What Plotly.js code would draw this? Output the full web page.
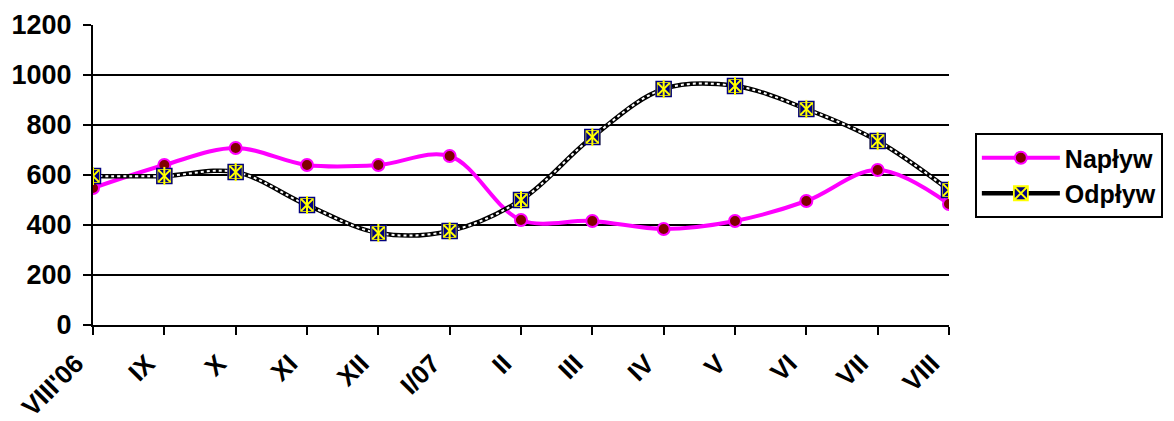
<!DOCTYPE html>
<html>
<head>
<meta charset="utf-8">
<script src="https://cdn.plot.ly/plotly-3.0.1.min.js"></script>
<style>html,body{margin:0;padding:0;background:#fff;}#chart{width:1174px;height:421px;}</style>
</head>
<body>
<div id="chart"></div>
<script>
const categories = ["VIII'06", "IX", "X", "XI", "XII", "I/07", "II", "III", "IV", "V", "VI", "VII", "VIII"];
const naplyw = [548, 640, 708, 640, 640, 676, 420, 416, 384, 416, 496, 620, 484];
const odplyw = [596, 596, 612, 480, 368, 376, 500, 752, 944, 956, 864, 736, 540];
const yTicks = [0, 200, 400, 600, 800, 1000, 1200];

const idx = categories.map((c, i) => i);
const fontFam = "Arial, 'Liberation Sans', sans-serif";

const traces = [
  {
    x: idx, y: naplyw, name: "Napływ", type: "scatter", mode: "lines+markers",
    line: {color: "#FF00FF", width: 4, shape: "spline", smoothing: 1},
    marker: {symbol: "circle", size: 12, color: "#800000", line: {color: "#FF00FF", width: 2}}
  },
  {
    x: idx, y: odplyw, name: "Odpływ", type: "scatter", mode: "lines+markers",
    line: {color: "#000000", width: 4.5, shape: "spline", smoothing: 1},
    marker: {symbol: "square-x", size: 14, color: "#000080", line: {color: "#FFFF00", width: 1.8}}
  },
  {
    x: idx, y: odplyw, name: "Odpływ_dots", type: "scatter", mode: "lines",
    showlegend: false, hoverinfo: "skip",
    line: {color: "#FFFFFF", width: 2, shape: "spline", smoothing: 1, dash: "3px,3px"}
  },
  {
    x: idx, y: odplyw, name: "Odpływ_marks", type: "scatter", mode: "markers",
    showlegend: false, hoverinfo: "skip",
    marker: {symbol: "square-x", size: 14, color: "#000080", line: {color: "#FFFF00", width: 1.8}}
  },
  {
    x: idx, y: odplyw, name: "Odpływ_border", type: "scatter", mode: "markers",
    showlegend: false, hoverinfo: "skip",
    marker: {symbol: "square-open", size: 15, color: "#000080", line: {color: "#000080", width: 1.5}}
  },
  {
    x: idx, y: odplyw, name: "Odpływ_marks2", type: "scatter", mode: "markers",
    showlegend: false, hoverinfo: "skip",
    marker: {symbol: "line-ns-open", size: 13, color: "#FFFF00", line: {color: "#FFFF00", width: 2}}
  }
];

const layout = {
  width: 1174, height: 421,
  margin: {l: 93, r: 224, t: 25, b: 96},
  paper_bgcolor: "#fff", plot_bgcolor: "#fff",
  showlegend: true,
  legend: {
    x: 1.029, y: 0.64, xanchor: "left", yanchor: "top",
    bordercolor: "#000", borderwidth: 2, bgcolor: "#fff",
    font: {family: fontFam, size: 25, color: "#000", weight: "bold"},
    itemwidth: 78, tracegroupgap: 0
  },
  xaxis: {
    range: [0, 12], tickmode: "array", tickvals: idx, ticktext: categories,
    tickangle: -45, ticks: "outside", ticklen: 8, tickwidth: 2, tickcolor: "#000",
    ticklabelstandoff: 3, ticklabelshift: -17,
    showline: true, linecolor: "#000", linewidth: 2, showgrid: false, zeroline: false,
    tickfont: {family: fontFam, size: 26, color: "#000", weight: "bold"}
  },
  yaxis: {
    range: [0, 1200], tickmode: "array", tickvals: yTicks,
    ticks: "outside", ticklen: 8, tickwidth: 2, tickcolor: "#000",
    ticklabelstandoff: 6,
    showline: true, linecolor: "#000", linewidth: 2,
    showgrid: true, gridcolor: "#000", gridwidth: 2, zeroline: false,
    tickfont: {family: fontFam, size: 27, color: "#000", weight: "bold"}
  }
};

Plotly.newPlot("chart", traces, layout, {displayModeBar: false, staticPlot: true});
</script>
</body>
</html>
